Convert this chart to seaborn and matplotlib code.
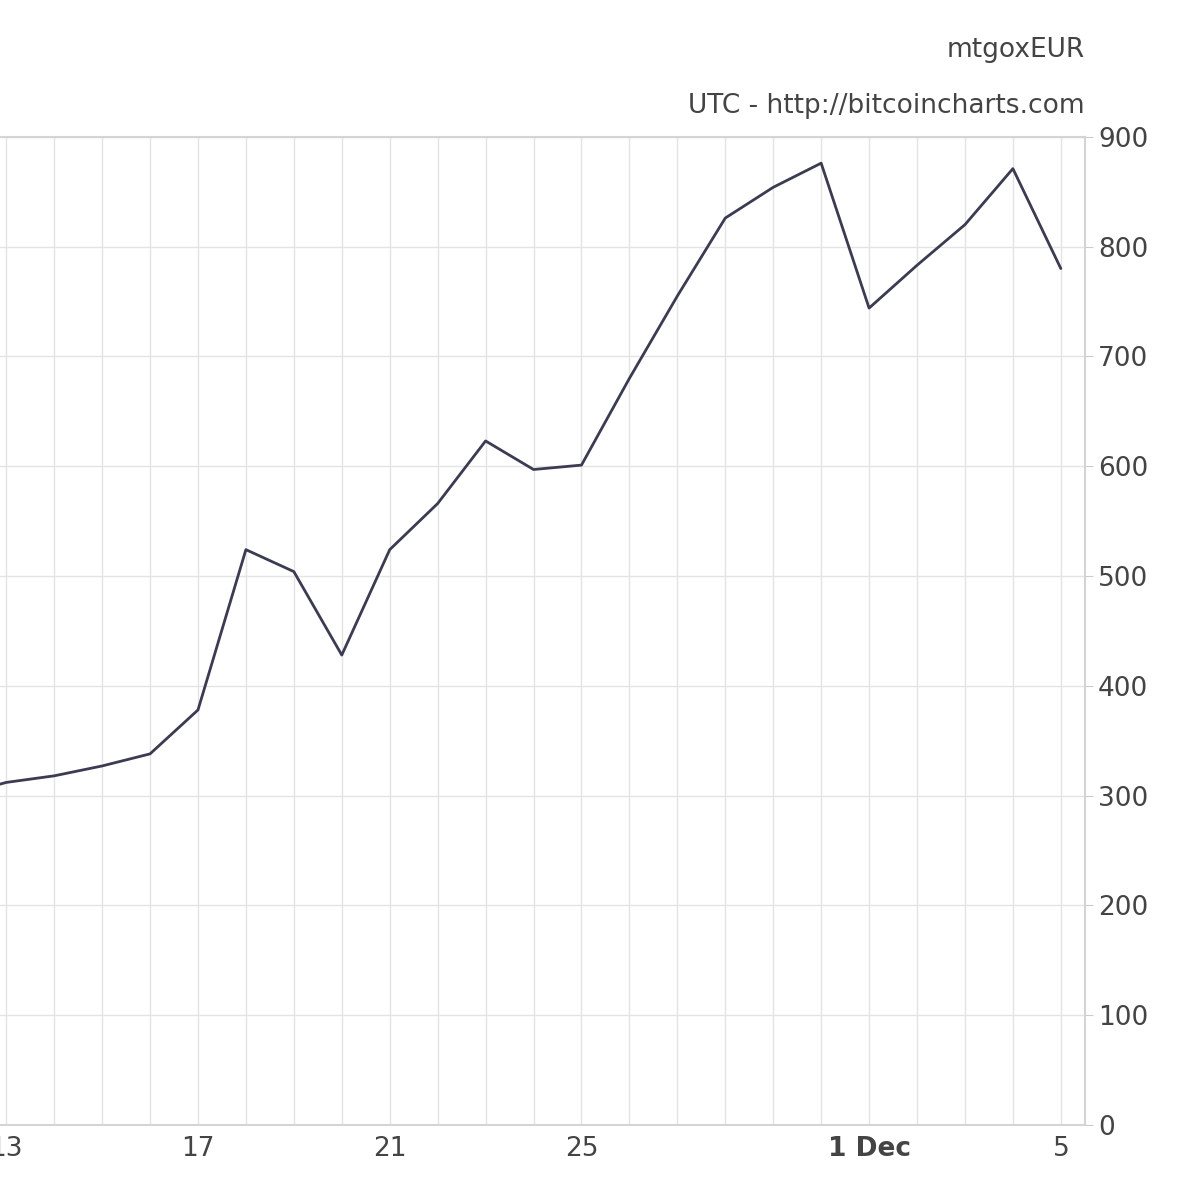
import matplotlib
matplotlib.use('Agg')
import matplotlib.pyplot as plt
import seaborn as sns
import pandas as pd

# day index: Nov 13 = 13 ... Dec 1 = 31
days = [12, 13, 14, 15, 16, 17, 18, 19, 20, 21, 22, 23, 24, 25, 26, 27, 28, 29, 30, 31, 32, 33, 34, 35]
price = [300, 312, 318, 327, 338, 378, 524, 504, 428, 524, 566, 623, 597, 601, 680, 755, 826, 854, 876, 744, 783, 820, 871, 780]
tick_days = [13, 17, 21, 25, 31, 35]
tick_labels = ['13', '17', '21', '25', '1 Dec', '5']
y_ticks = [0, 100, 200, 300, 400, 500, 600, 700, 800, 900]

GRID = '#e4e4e4'
TEXT = '#444444'

sns.set_style('white')
plt.rcParams['font.family'] = ['DejaVu Sans']

df = pd.DataFrame({'day': days, 'price': price})
fig = plt.figure(figsize=(12, 12), dpi=100)
ax = fig.add_axes([0.0, 0.0625, 0.904, 0.8235])
sns.lineplot(data=df, x='day', y='price', ax=ax, color='#3b3b52', linewidth=2)

ax.set_xlim(12.87, 35.5)
ax.set_ylim(0, 900)
ax.set_xticks(range(13, 36), minor=True)
ax.set_xticks(tick_days)
ax.set_xticklabels(tick_labels, fontsize=19, color=TEXT)
for lbl in ax.get_xticklabels():
    if lbl.get_text() == '1 Dec':
        lbl.set_fontweight('bold')
ax.set_yticks(y_ticks)
ax.set_yticks(range(0, 901, 100), minor=False)
ax.yaxis.tick_right()
ax.tick_params(axis='y', labelsize=19, colors=TEXT, length=6, color='#cccccc')
ax.tick_params(axis='x', length=0, pad=8)
ax.tick_params(which='minor', length=0)
ax.grid(True, which='both', color=GRID, linewidth=1)
ax.set_xlabel('')
ax.set_ylabel('')
for s in ['left']:
    ax.spines[s].set_visible(False)
for s in ['top', 'bottom', 'right']:
    ax.spines[s].set_color('#d4d4d4')
    ax.spines[s].set_linewidth(1.5)

fig.text(0.904, 0.958, 'mtgoxEUR', ha='right', va='center', fontsize=19, color=TEXT)
fig.text(0.904, 0.912, 'UTC - http://bitcoincharts.com', ha='right', va='center', fontsize=19, color=TEXT)

fig.savefig('out.png', dpi=100, facecolor='white')
